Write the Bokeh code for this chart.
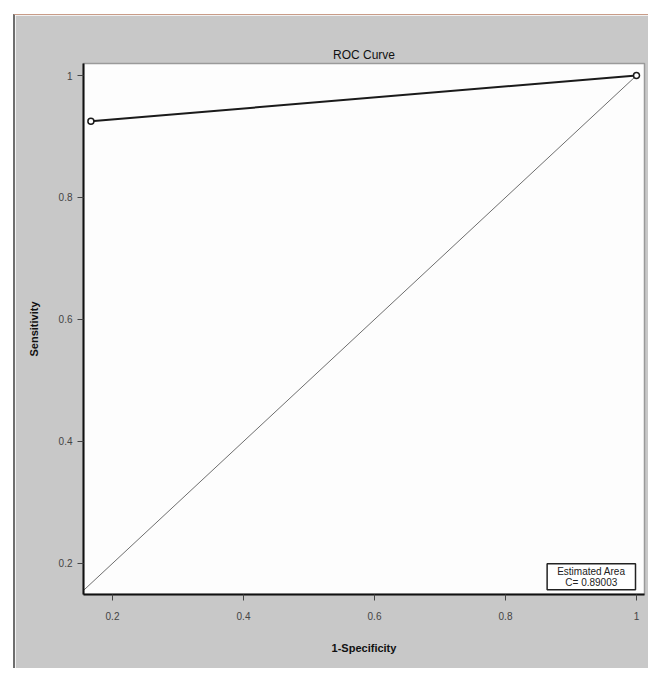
from bokeh.plotting import figure
from bokeh.models import Range1d, FixedTicker, Label
from bokeh.embed import file_html
from bokeh.resources import INLINE

# data
roc_fpr = [0.167, 1.0]
roc_tpr = [0.925, 1.0]
chance_x = [0.0, 1.0]
chance_y = [0.0, 1.0]
tick_values = [0.2, 0.4, 0.6, 0.8, 1.0]
tick_labels = {0.2: "0.2", 0.4: "0.4", 0.6: "0.6", 0.8: "0.8", 1.0: "1"}
area_text = "Estimated Area\nC= 0.89003"

FONT = "Liberation Sans"
PANEL = "#c8c8c8"

p = figure(width=635, height=654, output_backend="svg", toolbar_location=None,
           x_range=Range1d(0.1557, 1.0122), y_range=Range1d(0.149, 1.0197),
           title="ROC Curve", x_axis_label="1-Specificity", y_axis_label="Sensitivity",
           min_border_left=68, min_border_right=6, min_border_top=48, min_border_bottom=75)
p.styles = {"margin-left": "13px", "margin-top": "14px",
            "border-top": "1px solid #c89c88", "border-left": "2px solid #6e6e6e"}

p.border_fill_color = PANEL
p.background_fill_color = "#fdfdfd"
p.outline_line_color = "#9a9a9a"
p.outline_line_width = 1.5
p.grid.visible = False

p.title.align = "center"
p.title.text_font = FONT
p.title.text_font_size = "12px"
p.title.text_font_style = "normal"
p.title.text_color = "#111111"
p.title.standoff = 4

for ax in (p.xaxis[0], p.yaxis[0]):
    ax.ticker = FixedTicker(ticks=tick_values)
    ax.major_label_overrides = tick_labels
    ax.minor_tick_line_color = None
    ax.major_tick_in = 0
    ax.major_tick_out = 6
    ax.major_tick_line_color = "#444444"
    ax.axis_line_color = "#111111"
    ax.axis_line_width = 2
    ax.major_label_text_font = FONT
    ax.major_label_text_font_size = "10px"
    ax.major_label_text_color = "#444444"
    ax.axis_label_text_font = FONT
    ax.axis_label_text_font_size = "11px"
    ax.axis_label_text_font_style = "bold"
    ax.axis_label_text_color = "#111111"

p.xaxis[0].major_label_standoff = 11
p.xaxis[0].axis_label_standoff = 19
p.yaxis[0].axis_label_standoff = 16
p.yaxis[0].major_label_orientation = "horizontal"

p.line(chance_x, chance_y, line_color="#6e6e6e", line_width=1)
p.line(roc_fpr, roc_tpr, line_color="#1a1a1a", line_width=2)
p.scatter(roc_fpr, roc_tpr, marker="circle", size=6, fill_color="white",
          line_color="#1a1a1a", line_width=1.5)

box = Label(x=0.931, y=0.178, text=area_text, text_align="center", text_baseline="middle",
            text_font=FONT, text_font_size="10px", text_color="#222222", text_line_height=1.0,
            background_fill_color="white", border_line_color="#222222", border_line_width=1.5,
            padding=(10, 2))
p.add_layout(box)

open("out.html", "w").write(file_html(p, INLINE))
